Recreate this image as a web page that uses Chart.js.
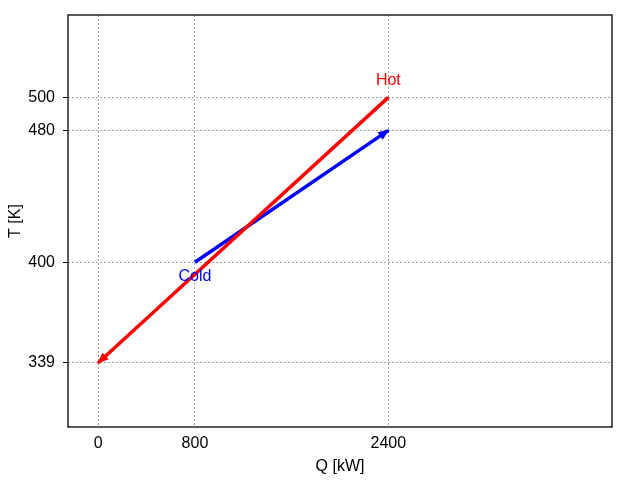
<!DOCTYPE html>
<html>
<head>
<meta charset="utf-8">
<script src="https://cdn.jsdelivr.net/npm/chart.js@4"></script>
<style>
  html, body { margin: 0; padding: 0; background: #fff; }
</style>
</head>
<body>
<canvas id="chart" width="640" height="480"></canvas>
<script>
// datos de las corrientes
const hotQ = [2400, 0];
const hotT = [500, 339];
const coldQ = [800, 2400];
const coldT = [400, 480];

const xTicks = [0, 800, 2400];
const yTicks = [339, 400, 480, 500];

// etiquetas de texto
const labelText = ['Hot', 'Cold'];
const labelQ = [2400, 800];
const labelT = [510, 391.5];
const labelColor = ['red', 'blue'];

function puntos(qs, ts) {
    return qs.map((q, i) => ({ x: q, y: ts[i] }));
}

// marco, flechas y textos
const extras = {
    id: 'extras',
    afterDatasetsDraw(chart) {
        const ctx = chart.ctx;
        const xs = chart.scales.x;
        const ys = chart.scales.y;

        chart.data.datasets.forEach((ds, i) => {
            const meta = chart.getDatasetMeta(i);
            const n = meta.data.length;
            const p1 = meta.data[n - 2];
            const p2 = meta.data[n - 1];
            const ang = Math.atan2(p2.y - p1.y, p2.x - p1.x);
            const L = 10, W = 4.5;
            ctx.save();
            ctx.fillStyle = ds.borderColor;
            ctx.beginPath();
            ctx.moveTo(p2.x + 1.5 * Math.cos(ang), p2.y + 1.5 * Math.sin(ang));
            ctx.lineTo(p2.x - L * Math.cos(ang) + W * Math.sin(ang), p2.y - L * Math.sin(ang) - W * Math.cos(ang));
            ctx.lineTo(p2.x - L * Math.cos(ang) - W * Math.sin(ang), p2.y - L * Math.sin(ang) + W * Math.cos(ang));
            ctx.closePath();
            ctx.fill();
            ctx.restore();
        });

        ctx.save();
        ctx.font = '16px "Liberation Sans", Arial, sans-serif';
        ctx.textAlign = 'center';
        ctx.textBaseline = 'middle';
        labelText.forEach((t, i) => {
            ctx.fillStyle = labelColor[i];
            ctx.fillText(t, xs.getPixelForValue(labelQ[i]), ys.getPixelForValue(labelT[i]));
        });
        ctx.restore();

        const a = chart.chartArea;
        ctx.save();
        ctx.strokeStyle = '#000';
        ctx.lineWidth = 1.3;
        ctx.strokeRect(a.left, a.top, a.right - a.left, a.bottom - a.top);
        ctx.restore();
    }
};

const fuente = { family: '"Liberation Sans", Arial, sans-serif', size: 16 };

new Chart(document.getElementById('chart').getContext('2d'), {
    type: 'scatter',
    data: {
        datasets: [
            {
                label: 'Hot',
                data: puntos(hotQ, hotT),
                borderColor: 'red',
                backgroundColor: 'red',
                borderWidth: 3.5,
                showLine: true,
                pointRadius: 0,
            },
            {
                label: 'Cold',
                data: puntos(coldQ, coldT),
                borderColor: 'blue',
                backgroundColor: 'blue',
                borderWidth: 3.5,
                showLine: true,
                pointRadius: 0,
            },
        ],
    },
    options: {
        responsive: false,
        animation: false,
        layout: { padding: { top: 15, right: 28, left: 0, bottom: 0 } },
        plugins: {
            legend: { display: false },
            tooltip: { enabled: false },
        },
        scales: {
            x: {
                type: 'linear',
                min: -250,
                max: 4250,
                afterBuildTicks: s => { s.ticks = xTicks.map(v => ({ value: v })); },
                afterFit: s => { s.height = 53; s.paddingLeft = 0; s.paddingRight = 0; },
                grid: { color: '#a0a0a0', drawTicks: false },
                border: { display: false, dash: [2, 2] },
                ticks: { color: '#000', font: fuente, padding: 7, maxRotation: 0, callback: v => String(v) },
                title: { display: true, text: 'Q [kW]', color: '#000', font: fuente, padding: { top: 0, bottom: 4 } },
            },
            y: {
                type: 'linear',
                min: 300,
                max: 550,
                afterBuildTicks: s => { s.ticks = yTicks.map(v => ({ value: v })); },
                afterFit: s => { s.width = 68; s.paddingTop = 0; s.paddingBottom = 0; },
                grid: { color: '#a0a0a0', tickLength: 5, tickColor: '#000', tickBorderDash: [] },
                border: { display: false, dash: [2, 2] },
                ticks: { color: '#000', font: fuente, padding: 8, callback: v => String(v) },
                title: { display: true, text: 'T [K]', color: '#000', font: fuente, padding: { top: 6, bottom: 0 } },
            },
        },
    },
    plugins: [extras],
});
</script>
</body>
</html>
